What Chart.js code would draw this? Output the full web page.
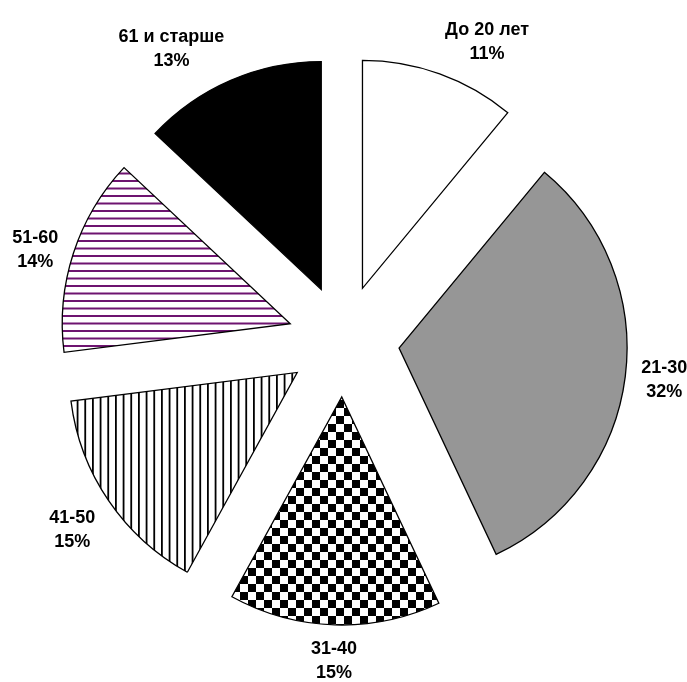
<!DOCTYPE html>
<html>
<head>
<meta charset="utf-8">
<script src="https://cdn.jsdelivr.net/npm/chart.js@4.4.0/dist/chart.umd.min.js"></script>
<style>
    html, body { margin: 0; padding: 0; background: #fff; overflow: hidden; }
    canvas { display: block; }
</style>
</head>
<body>
<canvas id="ageChart" width="687" height="682"></canvas>
<script>
const categories = ['До 20 лет', '21-30', '31-40', '41-50', '51-60', '61 и старше'];
const shares = [11, 32, 15, 15, 14, 13];

const EXPLODE = 56;     // how far each slice is pulled out
const LABEL_GAP = 16;   // distance between slice edge and its label
const FONT_SIZE = 18;
const LINE_HEIGHT = 24;

const canvas = document.getElementById('ageChart');
const ctx = canvas.getContext('2d');

function makePattern(w, h, draw) {
    const c = document.createElement('canvas');
    c.width = w;
    c.height = h;
    const g = c.getContext('2d');
    g.fillStyle = '#ffffff';
    g.fillRect(0, 0, w, h);
    draw(g);
    return ctx.createPattern(c, 'repeat');
}

const checker = makePattern(16, 16, g => {
    g.fillStyle = '#000';
    g.fillRect(0, 0, 8, 8);
    g.fillRect(8, 8, 8, 8);
});

const verticalLines = makePattern(23, 4, g => {
    g.fillStyle = '#000';
    [0, 7.67, 15.33].forEach(x => g.fillRect(x, 0, 1.8, 4));
});

const purpleLines = makePattern(4, 15, g => {
    g.fillStyle = '#6e1470';
    [0, 7.5].forEach(y => g.fillRect(0, y, 4, 2));
});

const fills = ['#ffffff', '#969696', checker, verticalLines, purpleLines, '#000000'];

// pull every slice out along its bisector by the same distance
const explodePlugin = {
    id: 'explode',
    afterDatasetsUpdate(chart) {
        chart.getDatasetMeta(0).data.forEach(arc => {
            const mid = (arc.startAngle + arc.endAngle) / 2;
            arc.x += Math.cos(mid) * EXPLODE;
            arc.y += Math.sin(mid) * EXPLODE;
        });
    }
};

// two-line labels placed outside the slice end
const outsideLabels = {
    id: 'outsideLabels',
    afterDatasetsDraw(chart) {
        const c = chart.ctx;
        const area = chart.chartArea;
        const cx = (area.left + area.right) / 2;
        const cy = (area.top + area.bottom) / 2;
        c.save();
        c.font = `bold ${FONT_SIZE}px Arial, "Liberation Sans", sans-serif`;
        c.fillStyle = '#000';
        c.textAlign = 'center';
        c.textBaseline = 'alphabetic';
        chart.getDatasetMeta(0).data.forEach((arc, i) => {
            const mid = (arc.startAngle + arc.endAngle) / 2;
            const r = arc.outerRadius + EXPLODE + LABEL_GAP;
            const dx = Math.cos(mid), dy = Math.sin(mid);
            const ax = cx + dx * r;
            const ay = cy + dy * r;
            const lines = [categories[i], shares[i] + '%'];
            const w = Math.max(...lines.map(t => c.measureText(t).width));
            const capH = FONT_SIZE * 0.72;
            const h = LINE_HEIGHT + capH;

            let left;
            if (dx > 0.2) left = ax;
            else if (dx < -0.2) left = ax - w;
            else left = ax - w / 2;

            let top;
            if (dy < -0.45) top = ay - h;
            else if (dy > 0.45) top = ay;
            else top = ay - h / 2;

            lines.forEach((t, k) => {
                c.fillText(t, left + w / 2, top + capH + k * LINE_HEIGHT);
            });
        });
        c.restore();
    }
};

new Chart(ctx, {
    type: 'pie',
    data: {
        labels: categories,
        datasets: [{
            data: shares,
            backgroundColor: fills,
            borderColor: '#000000',
            borderWidth: 1.3,
            borderJoinStyle: 'miter'
        }]
    },
    options: {
        responsive: false,
        devicePixelRatio: 1,
        animation: false,
        events: [],
        radius: 228,
        layout: { padding: 0 },
        plugins: {
            legend: { display: false },
            tooltip: { enabled: false }
        }
    },
    plugins: [explodePlugin, outsideLabels]
});
</script>
</body>
</html>
